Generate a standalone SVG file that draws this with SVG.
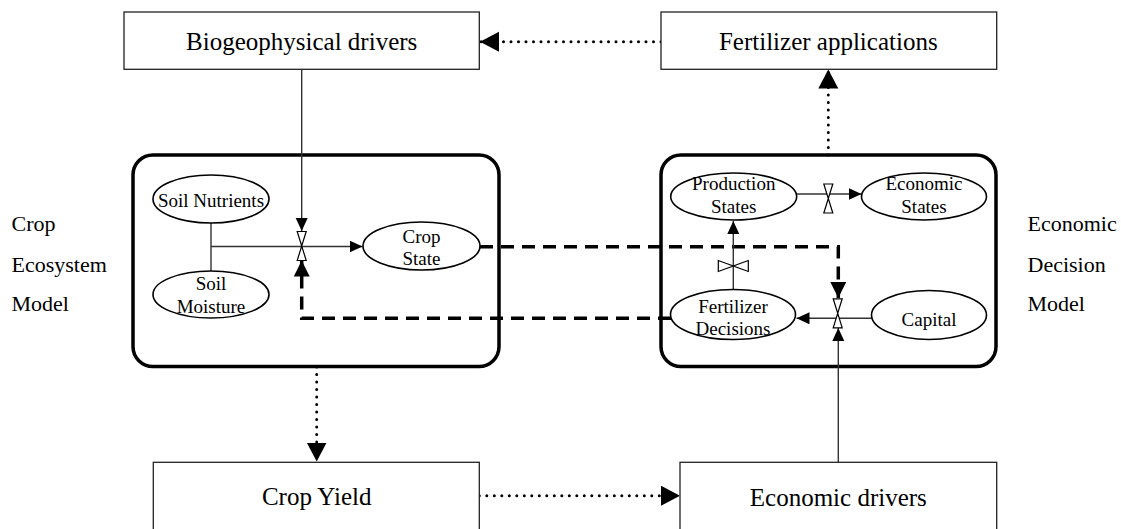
<svg xmlns="http://www.w3.org/2000/svg" width="1121" height="529" viewBox="0 0 1121 529">
<style>
text{font-family:"Liberation Serif","Times New Roman",serif;fill:#000;text-anchor:middle}
.big{font-size:25px}
.side{font-size:22px;text-anchor:start}
.in{font-size:19px}
.box{fill:#fff;stroke:#222;stroke-width:1.3}
.model{fill:none;stroke:#000;stroke-width:3.5}
.ell{fill:#fff;stroke:#000;stroke-width:1.6}
.solid{fill:none;stroke:#333;stroke-width:1.4}
.dash{fill:none;stroke:#000;stroke-width:3.5;stroke-dasharray:13 8}
.dot{fill:none;stroke:#000;stroke-width:3;stroke-dasharray:0 7.5;stroke-linecap:round}
.valve{fill:#fff;stroke:#000;stroke-width:1.2}
</style>
<defs>
<marker id="aS" markerUnits="userSpaceOnUse" markerWidth="14" markerHeight="14" refX="13" refY="6" orient="auto"><path d="M0,0 L13,6 L0,12 Z" fill="#000"/></marker>
<marker id="aD" markerUnits="userSpaceOnUse" markerWidth="18" markerHeight="18" refX="16" refY="8" orient="auto"><path d="M0,0 L16,8 L0,16 Z" fill="#000"/></marker>
<marker id="aT" markerUnits="userSpaceOnUse" markerWidth="22" markerHeight="22" refX="19" refY="10" orient="auto"><path d="M0,0 L19,10 L0,20 Z" fill="#000"/></marker>
<g id="valveV"><path class="valve" d="M-4.5,-14.5 L4.5,-14.5 L0,0 Z M-4.5,14.5 L4.5,14.5 L0,0 Z"/></g>
<g id="valveH"><path class="valve" d="M-15,-5.5 L-15,5.5 L0,0 Z M15,-5.5 L15,5.5 L0,0 Z"/></g>
</defs>

<g id="side-labels">
<text class="side" x="11.5" y="231">Crop</text>
<text class="side" x="11.5" y="271.5">Ecosystem</text>
<text class="side" x="11.5" y="311">Model</text>
<text class="side" x="1027.5" y="231">Economic</text>
<text class="side" x="1027.5" y="271.5">Decision</text>
<text class="side" x="1027.5" y="311">Model</text>
</g>

<g id="crop-ecosystem-model"><rect class="model" x="133" y="155" width="366" height="211.5" rx="20"/></g>
<g id="economic-decision-model"><rect class="model" x="661" y="155" width="335" height="211.5" rx="20"/></g>

<g id="connectors">
<path class="solid" d="M301.7,69.3 V231" marker-end="url(#aS)"/>
<path class="dot" d="M661,41.7 H480" marker-end="url(#aT)"/>
<path class="solid" d="M211,223 V271 M211,246.5 H362.5" marker-end="url(#aS)"/>
<path class="dash" d="M480,246.7 H838.3 V298" marker-end="url(#aD)"/>
<path class="dash" d="M671,318.3 H301.7 V260.5" marker-end="url(#aD)"/>
<path class="dot" d="M316.7,367 V461.5" marker-end="url(#aT)"/>
<path class="dot" d="M479.3,495.7 H680" marker-end="url(#aT)"/>
<path class="solid" d="M838.3,462.3 V328" marker-end="url(#aS)"/>
<path class="solid" d="M871.7,318.3 H796.5" marker-end="url(#aS)"/>
<path class="solid" d="M733.3,289 V221" marker-end="url(#aS)"/>
<path class="solid" d="M796.7,194 H861.5" marker-end="url(#aS)"/>
<path class="dot" d="M828.3,155 V69.5" marker-end="url(#aT)"/>
<use href="#valveV" x="301.7" y="246"/>
<use href="#valveV" x="828.3" y="198.5"/>
<use href="#valveH" x="733.3" y="266"/>
<use href="#valveV" x="837.7" y="313.3"/>
</g>

<g id="biogeophysical-drivers"><rect class="box" x="124" y="12" width="355.3" height="57.3"/><text class="big" x="301.7" y="50">Biogeophysical drivers</text></g>
<g id="fertilizer-applications"><rect class="box" x="661" y="12" width="335.7" height="57.3"/><text class="big" x="828.3" y="50">Fertilizer applications</text></g>
<g id="crop-yield"><rect class="box" x="153.3" y="462.3" width="326" height="80"/><text class="big" x="316.7" y="505">Crop Yield</text></g>
<g id="economic-drivers"><rect class="box" x="680" y="462.3" width="316.7" height="80"/><text class="big" x="838.3" y="505.5">Economic drivers</text></g>

<g id="soil-nutrients"><ellipse class="ell" cx="211" cy="199" rx="58" ry="24"/><text class="in" x="211" y="206.5">Soil Nutrients</text></g>
<g id="soil-moisture"><ellipse class="ell" cx="211" cy="294.5" rx="58" ry="23.5"/><text class="in" x="211" y="290">Soil</text><text class="in" x="211" y="313">Moisture</text></g>
<g id="crop-state"><ellipse class="ell" cx="421.5" cy="246" rx="58.5" ry="24"/><text class="in" x="421.5" y="242.5">Crop</text><text class="in" x="421.5" y="265">State</text></g>
<g id="production-states"><ellipse class="ell" cx="733.7" cy="196.5" rx="63" ry="23.5"/><text class="in" x="733.7" y="190">Production</text><text class="in" x="733.7" y="212.5">States</text></g>
<g id="economic-states"><ellipse class="ell" cx="924" cy="196.5" rx="62.5" ry="23.5"/><text class="in" x="924" y="190">Economic</text><text class="in" x="924" y="212.5">States</text></g>
<g id="fertilizer-decisions"><ellipse class="ell" cx="733" cy="314.5" rx="62.5" ry="25"/><text class="in" x="733" y="313">Fertilizer</text><text class="in" x="733" y="335">Decisions</text></g>
<g id="capital"><ellipse class="ell" cx="929" cy="315" rx="57.5" ry="24.5"/><text class="in" x="929" y="326">Capital</text></g>
</svg>
